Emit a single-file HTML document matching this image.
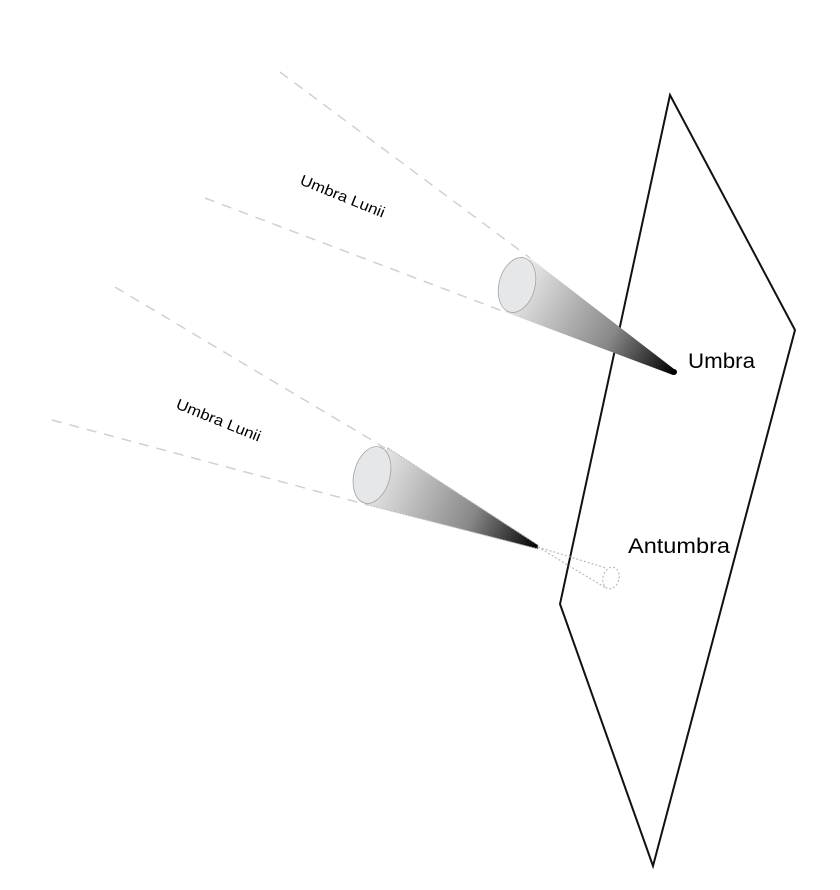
<!DOCTYPE html>
<html><head><meta charset="utf-8"><style>html,body{margin:0;padding:0;background:#fff}svg{display:block}</style></head>
<body>
<svg width="840" height="890" viewBox="0 0 840 890" xmlns="http://www.w3.org/2000/svg" font-family="Liberation Sans, sans-serif">
<defs>
<linearGradient id="g1" gradientUnits="userSpaceOnUse" x1="517" y1="285" x2="674" y2="372">
<stop offset="0" stop-color="#e8e8e8"/><stop offset="0.6" stop-color="#888"/><stop offset="1" stop-color="#000"/></linearGradient>
<linearGradient id="g2" gradientUnits="userSpaceOnUse" x1="372" y1="475" x2="538" y2="547">
<stop offset="0" stop-color="#e8e8e8"/><stop offset="0.6" stop-color="#888"/><stop offset="1" stop-color="#000"/></linearGradient>
</defs>
<g stroke="#d0d0d0" stroke-width="1.5" stroke-dasharray="10,8" fill="none">
<line x1="280" y1="72" x2="530" y2="258"/>
<line x1="205" y1="198" x2="505" y2="312"/>
<line x1="115" y1="287" x2="385" y2="448"/>
<line x1="52" y1="420" x2="368" y2="505"/>
</g>
<polygon points="670,95 795,330 653,866 560,604" fill="none" stroke="#111" stroke-width="2"/>
<polygon points="530,258 674,369 673,375 505,312" fill="url(#g1)"/>
<circle cx="674" cy="372" r="3" fill="#000"/>
<ellipse cx="517" cy="285" rx="18" ry="28" transform="rotate(15 517 285)" fill="#e6e7e8" stroke="#999" stroke-width="0.7"/>
<polygon points="388,448 538,545 538,549 368,505" fill="url(#g2)" stroke="#bbb" stroke-width="1" stroke-dasharray="2,1"/>
<g stroke="#bbb" stroke-width="1.2" stroke-dasharray="2,2" fill="none">
<line x1="538" y1="547" x2="606" y2="568"/>
<line x1="538" y1="547" x2="606" y2="588"/>
<ellipse cx="611" cy="578" rx="8" ry="11" transform="rotate(15 611 578)"/>
</g>
<ellipse cx="372" cy="475" rx="18" ry="29" transform="rotate(15 372 475)" fill="#e6e7e8" stroke="#999" stroke-width="0.7"/>
<text x="299" y="184" font-size="15" textLength="90" lengthAdjust="spacingAndGlyphs" transform="rotate(22 299 184)">Umbra Lunii</text>
<text x="175" y="408" font-size="15" textLength="90" lengthAdjust="spacingAndGlyphs" transform="rotate(22 175 408)">Umbra Lunii</text>
<text x="688" y="368" font-size="21" textLength="67" lengthAdjust="spacingAndGlyphs">Umbra</text>
<text x="628" y="553" font-size="21" textLength="102" lengthAdjust="spacingAndGlyphs">Antumbra</text>
</svg>
</body></html>
